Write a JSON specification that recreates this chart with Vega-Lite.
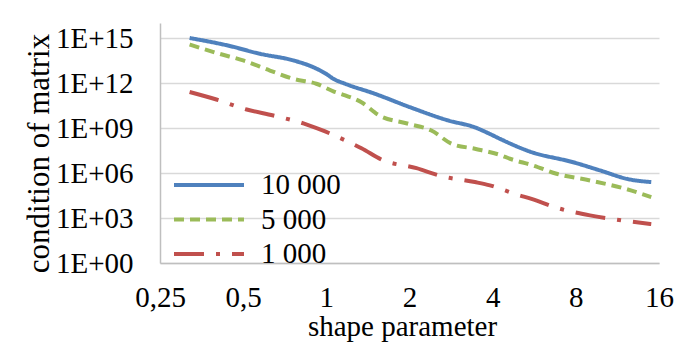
{
  "$schema": "https://vega.github.io/schema/vega-lite/v6.json",
  "width": 499,
  "height": 240,
  "autosize": {"type": "none"},
  "padding": {"left": 160, "top": 23, "right": 21, "bottom": 84},
  "background": "white",
  "config": {
    "view": {"stroke": null},
    "font": "Liberation Serif",
    "axis": {
      "labelFont": "Liberation Serif",
      "labelFontSize": 29,
      "labelColor": "#000000",
      "labelFlush": false,
      "labelOverlap": false,
      "titleFont": "Liberation Serif",
      "titleFontSize": 29,
      "titleFontWeight": "normal",
      "titleColor": "#000000",
      "ticks": false,
      "tickSize": 0,
      "domainColor": "#bfbfbf",
      "domainWidth": 1.5,
      "gridColor": "#d9d9d9",
      "gridWidth": 1.5
    },
    "legend": {
      "labelFont": "Liberation Serif",
      "labelFontSize": 29,
      "labelColor": "#000000"
    }
  },
  "data": {
    "values": [
      {"s": "10 000", "x": 0.32, "y": 1.0e15},
      {"s": "10 000", "x": 0.44, "y": 3.16e14},
      {"s": "10 000", "x": 0.575, "y": 8.9e13},
      {"s": "10 000", "x": 0.76, "y": 3.2e13},
      {"s": "10 000", "x": 0.9, "y": 1.1e13},
      {"s": "10 000", "x": 1.0, "y": 4.0e12},
      {"s": "10 000", "x": 1.06, "y": 1.9e12},
      {"s": "10 000", "x": 1.17, "y": 8.9e11},
      {"s": "10 000", "x": 1.5, "y": 1.9e11},
      {"s": "10 000", "x": 2.0, "y": 2.5e10},
      {"s": "10 000", "x": 2.76, "y": 3.2e9},
      {"s": "10 000", "x": 3.45, "y": 1.1e9},
      {"s": "10 000", "x": 3.91, "y": 4.0e8},
      {"s": "10 000", "x": 4.25, "y": 1.9e8},
      {"s": "10 000", "x": 5.45, "y": 2.7e7},
      {"s": "10 000", "x": 7.83, "y": 5.2e6},
      {"s": "10 000", "x": 9.77, "y": 1.5e6},
      {"s": "10 000", "x": 12.54, "y": 3.7e5},
      {"s": "10 000", "x": 15, "y": 2.5e5},
      {"s": "5 000", "x": 0.32, "y": 3.7e14},
      {"s": "5 000", "x": 0.41, "y": 8.9e13},
      {"s": "5 000", "x": 0.5, "y": 3.2e13},
      {"s": "5 000", "x": 0.625, "y": 6.8e12},
      {"s": "5 000", "x": 0.76, "y": 1.9e12},
      {"s": "5 000", "x": 0.92, "y": 8.9e11},
      {"s": "5 000", "x": 1.06, "y": 2.8e11},
      {"s": "5 000", "x": 1.17, "y": 1.5e11},
      {"s": "5 000", "x": 1.34, "y": 5.2e10},
      {"s": "5 000", "x": 1.54, "y": 7.6e9},
      {"s": "5 000", "x": 1.98, "y": 1.9e9},
      {"s": "5 000", "x": 2.4, "y": 6.8e8},
      {"s": "5 000", "x": 2.84, "y": 8.9e7},
      {"s": "5 000", "x": 3.45, "y": 4.1e7},
      {"s": "5 000", "x": 4.25, "y": 1.6e7},
      {"s": "5 000", "x": 4.62, "y": 8.9e6},
      {"s": "5 000", "x": 5.6, "y": 3.2e6},
      {"s": "5 000", "x": 6.81, "y": 8.9e5},
      {"s": "5 000", "x": 9.0, "y": 3.2e5},
      {"s": "5 000", "x": 11.86, "y": 9.8e4},
      {"s": "5 000", "x": 15, "y": 2.5e4},
      {"s": "1 000", "x": 0.32, "y": 2.5e11},
      {"s": "1 000", "x": 0.4, "y": 7.9e10},
      {"s": "1 000", "x": 0.515, "y": 1.7e10},
      {"s": "1 000", "x": 0.643, "y": 6.8e9},
      {"s": "1 000", "x": 0.85, "y": 1.7e9},
      {"s": "1 000", "x": 0.99, "y": 5.9e8},
      {"s": "1 000", "x": 1.17, "y": 1.5e8},
      {"s": "1 000", "x": 1.34, "y": 4.5e7},
      {"s": "1 000", "x": 1.59, "y": 7.6e6},
      {"s": "1 000", "x": 2.12, "y": 2.1e6},
      {"s": "1 000", "x": 2.61, "y": 6.2e5},
      {"s": "1 000", "x": 3.45, "y": 2.5e5},
      {"s": "1 000", "x": 3.91, "y": 1.5e5},
      {"s": "1 000", "x": 4.88, "y": 3.7e4},
      {"s": "1 000", "x": 5.53, "y": 1.9e4},
      {"s": "1 000", "x": 6.9, "y": 4.5e3},
      {"s": "1 000", "x": 9.0, "y": 1.5e3},
      {"s": "1 000", "x": 11.2, "y": 7.9e2},
      {"s": "1 000", "x": 15, "y": 3.9e2}
    ]
  },
  "mark": {"type": "line", "strokeWidth": 4, "interpolate": "monotone"},
  "encoding": {
    "x": {
      "field": "x",
      "type": "quantitative",
      "scale": {"type": "log", "base": 2, "domain": [0.25, 16], "nice": false},
      "axis": {
        "title": "shape parameter",
        "titleX": 242,
        "values": [0.25, 0.5, 1, 2, 4, 8, 16],
        "labelExpr": "replace(toString(datum.value), '.', ',')",
        "labelPadding": 20,
        "titlePadding": 0,
        "grid": false
      }
    },
    "y": {
      "field": "y",
      "type": "quantitative",
      "scale": {"type": "log", "domain": [1, 1e16], "nice": false},
      "axis": {
        "title": "condition of matrix",
        "titleFontSize": 31,
        "titleY": 130,
        "values": [1, 1e3, 1e6, 1e9, 1e12, 1e15],
        "labelExpr": "'1E+' + (datum.value < 1e10 ? '0' : '') + round(log(datum.value) / LN10)",
        "labelPadding": 27,
        "titlePadding": 0,
        "grid": true
      }
    },
    "color": {
      "field": "s",
      "type": "nominal",
      "sort": ["10 000", "5 000", "1 000"],
      "scale": {"domain": ["10 000", "5 000", "1 000"], "range": ["#4F81BD", "#9BBB59", "#C0504D"]},
      "legend": {
        "title": null,
        "orient": "none",
        "legendX": 33,
        "legendY": 146,
        "padding": 0,
        "symbolType": "M-2.5,0H2.5",
        "symbolSize": 784,
        "symbolStrokeWidth": 4,
        "labelOffset": 36,
        "rowPadding": 3.5
      }
    },
    "strokeDash": {
      "field": "s",
      "type": "nominal",
      "sort": ["10 000", "5 000", "1 000"],
      "scale": {"domain": ["10 000", "5 000", "1 000"], "range": [[1, 0], [10, 6], [30, 12, 4, 12]]},
      "legend": {
        "title": null,
        "orient": "none",
        "legendX": 33,
        "legendY": 146,
        "padding": 0,
        "symbolType": "M-2.5,0H2.5",
        "symbolSize": 784,
        "symbolStrokeWidth": 4,
        "labelOffset": 36,
        "rowPadding": 3.5
      }
    }
  }
}
